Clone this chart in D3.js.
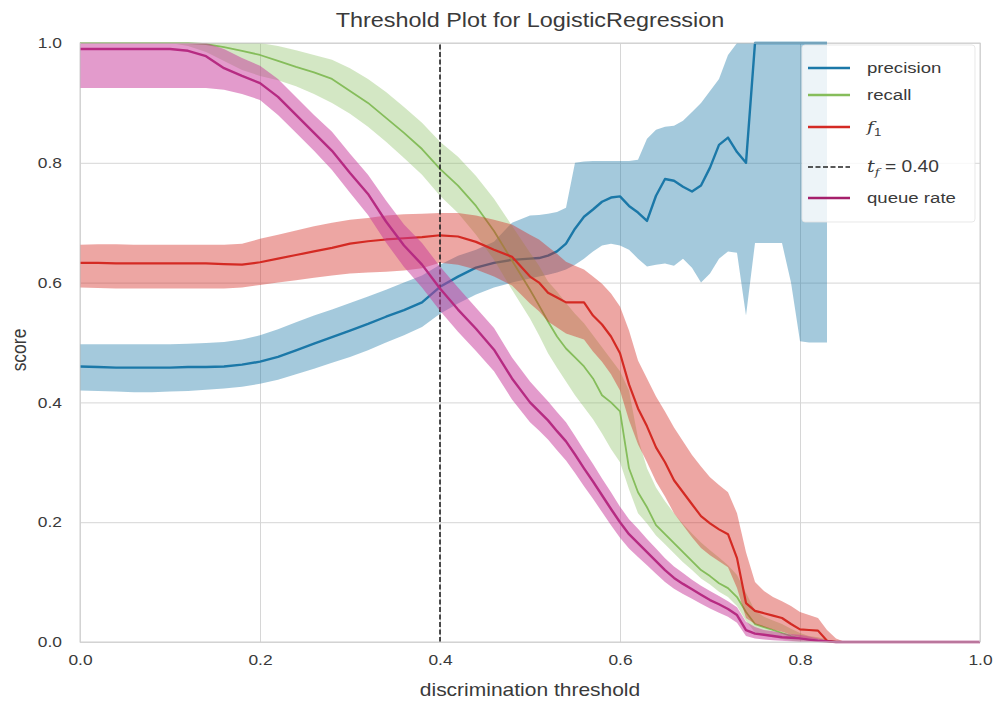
<!DOCTYPE html>
<html>
<head>
<meta charset="utf-8">
<script src="https://cdn.jsdelivr.net/npm/d3@7"></script>
<style>
  body { margin: 0; background: #fff; }
  svg text { font-family: "Liberation Sans", Arial, sans-serif; fill: #3a3a3a; }
</style>
</head>
<body>
<svg id="chart" width="999" height="706"></svg>
<script>
// Discrimination thresholds at which each metric was evaluated
const thresholds = [0.00,0.02,0.04,0.06,0.08,0.10,0.12,0.14,0.16,0.18,0.20,0.22,0.24,0.26,0.28,0.30,0.32,0.34,0.36,0.38,0.40,0.42,0.44,0.46,0.48,0.50,
  0.51,0.52,0.53,0.54,0.55,0.56,0.57,0.58,0.59,0.60,0.61,0.62,0.63,0.64,0.65,0.66,0.67,0.68,0.69,0.70,0.71,0.72,0.73,0.74,0.75,0.76,0.77,0.78,0.79,0.80,
  0.81,0.82,0.83,0.84,0.85,0.86,0.88,0.92,0.96,1.00];

// Precision: median and band (undefined once no samples are predicted positive)
const precision = [0.460,0.459,0.458,0.458,0.458,0.458,0.459,0.459,0.460,0.463,0.468,0.476,0.487,0.498,0.509,0.520,0.531,0.543,0.554,0.567,0.593,0.610,0.625,0.633,0.638,0.640,
  0.641,0.645,0.652,0.665,0.690,0.710,0.722,0.735,0.742,0.744,0.728,0.717,0.703,0.745,0.773,0.770,0.760,0.752,0.762,0.792,0.830,0.842,0.818,0.800,
  1.0,1.0,1.0,1.0,1.0,1.0,1.0,1.0,1.0,null,null,null,null,null,null,null];
const precisionLow = [0.420,0.419,0.418,0.417,0.417,0.418,0.419,0.421,0.423,0.426,0.431,0.438,0.447,0.456,0.466,0.476,0.487,0.500,0.512,0.526,0.548,0.565,0.580,0.592,0.600,0.607,
  0.610,0.613,0.617,0.622,0.630,0.640,0.652,0.662,0.665,0.662,0.655,0.640,0.627,0.630,0.632,0.628,0.640,0.625,0.600,0.615,0.640,0.652,0.650,0.545,
  0.666,0.666,0.666,0.666,0.600,0.502,0.500,0.500,0.500,null,null,null,null,null,null,null];
const precisionHigh = [0.497,0.497,0.497,0.497,0.497,0.497,0.498,0.499,0.501,0.505,0.512,0.522,0.534,0.545,0.555,0.566,0.577,0.588,0.600,0.612,0.630,0.645,0.655,0.668,0.700,0.712,
  0.713,0.715,0.718,0.725,0.800,0.802,0.803,0.803,0.803,0.803,0.803,0.805,0.840,0.855,0.860,0.862,0.870,0.885,0.900,0.920,0.940,0.980,1.0,1.0,
  1.0,1.0,1.0,1.0,1.0,1.0,1.0,1.0,1.0,null,null,null,null,null,null,null];

// Recall
const recall = [1,1,1,1,1,1,1.0,0.998,0.993,0.987,0.980,0.970,0.960,0.951,0.940,0.920,0.900,0.875,0.850,0.823,0.790,0.762,0.728,0.686,0.637,0.588,
  0.562,0.535,0.510,0.490,0.475,0.460,0.440,0.412,0.400,0.385,0.290,0.250,0.225,0.195,0.180,0.165,0.150,0.135,0.120,0.110,0.098,0.090,0.075,0.050,
  0.030,0.025,0.020,0.015,0.010,0.006,0.004,0.002,0.001,0,0,0,0,0,0,0];
const recallLow = [1,1,1,1,1,1,0.995,0.985,0.970,0.955,0.945,0.938,0.928,0.915,0.900,0.882,0.860,0.835,0.808,0.780,0.745,0.716,0.680,0.638,0.588,0.540,
  0.512,0.482,0.458,0.435,0.412,0.392,0.372,0.348,0.322,0.300,0.255,0.215,0.198,0.178,0.163,0.148,0.133,0.120,0.106,0.096,0.084,0.075,0.060,0.035,
  0.016,0.011,0.008,0.005,0.002,0,0,0,0,0,0,0,0,0,0,0];
const recallHigh = [1,1,1,1,1,1,1,1,1,1,1,0.995,0.988,0.980,0.972,0.958,0.940,0.918,0.893,0.867,0.835,0.810,0.778,0.740,0.695,0.650,
  0.628,0.602,0.585,0.566,0.548,0.532,0.512,0.492,0.472,0.452,0.420,0.340,0.290,0.258,0.235,0.215,0.197,0.181,0.166,0.153,0.141,0.128,0.112,0.082,
  0.052,0.042,0.036,0.030,0.022,0.015,0.010,0.008,0.004,0.001,0,0,0,0,0,0];

// F1 score
const fscore = [0.633,0.633,0.632,0.632,0.632,0.632,0.632,0.632,0.631,0.630,0.634,0.640,0.646,0.652,0.658,0.665,0.669,0.672,0.674,0.676,0.679,0.677,0.668,0.655,0.643,0.610,
  0.600,0.583,0.575,0.567,0.567,0.567,0.545,0.530,0.510,0.482,0.430,0.390,0.360,0.325,0.300,0.270,0.250,0.230,0.210,0.198,0.188,0.180,0.140,0.065,
  0.052,0.048,0.044,0.040,0.030,0.021,0.020,0.019,0.002,0,0,0,0,0,0,0];
const fscoreLow = [0.592,0.591,0.590,0.590,0.590,0.590,0.590,0.590,0.590,0.592,0.596,0.600,0.604,0.608,0.612,0.615,0.617,0.618,0.620,0.624,0.633,0.630,0.622,0.610,0.595,0.565,
  0.552,0.535,0.525,0.515,0.510,0.505,0.485,0.468,0.447,0.420,0.370,0.330,0.300,0.268,0.243,0.215,0.195,0.175,0.157,0.145,0.135,0.125,0.090,0.040,
  0.030,0.025,0.021,0.017,0.012,0.008,0.006,0.004,0,0,0,0,0,0,0,0];
const fscoreHigh = [0.663,0.664,0.664,0.663,0.663,0.663,0.663,0.663,0.663,0.665,0.673,0.680,0.687,0.694,0.700,0.705,0.708,0.712,0.714,0.715,0.716,0.716,0.712,0.705,0.697,0.680,
  0.672,0.660,0.648,0.635,0.628,0.622,0.610,0.598,0.582,0.560,0.520,0.470,0.440,0.410,0.385,0.358,0.335,0.312,0.293,0.275,0.262,0.250,0.215,0.150,
  0.100,0.085,0.075,0.068,0.060,0.050,0.045,0.040,0.020,0.006,0,0,0,0,0,0];

// Queue rate
const queueRate = [0.990,0.990,0.990,0.990,0.990,0.990,0.987,0.978,0.958,0.945,0.933,0.910,0.880,0.850,0.820,0.783,0.748,0.702,0.662,0.630,0.590,0.555,0.523,0.488,0.440,0.400,
  0.385,0.370,0.352,0.335,0.313,0.290,0.268,0.245,0.222,0.200,0.180,0.165,0.150,0.135,0.120,0.107,0.097,0.088,0.079,0.070,0.063,0.055,0.045,0.020,
  0.014,0.012,0.010,0.008,0.007,0.006,0.004,0.002,0.001,0,0,0,0,0,0,0];
const queueRateLow = [0.925,0.925,0.925,0.925,0.925,0.925,0.925,0.925,0.922,0.915,0.905,0.880,0.850,0.820,0.788,0.750,0.713,0.667,0.626,0.592,0.553,0.518,0.486,0.452,0.405,0.367,
  0.353,0.338,0.320,0.303,0.282,0.260,0.239,0.217,0.195,0.174,0.156,0.142,0.128,0.114,0.100,0.089,0.080,0.072,0.064,0.056,0.049,0.042,0.032,0.010,
  0.006,0.004,0.003,0.002,0.001,0,0,0,0,0,0,0,0,0,0,0];
const queueRateHigh = [1,1,1,1,1,1,1,1,0.990,0.975,0.962,0.940,0.910,0.880,0.852,0.815,0.780,0.737,0.697,0.666,0.627,0.592,0.558,0.524,0.475,0.435,
  0.418,0.402,0.384,0.367,0.344,0.320,0.297,0.273,0.250,0.226,0.205,0.189,0.172,0.156,0.140,0.126,0.115,0.104,0.094,0.085,0.077,0.068,0.058,0.034,
  0.025,0.020,0.018,0.015,0.013,0.012,0.009,0.006,0.003,0.001,0,0,0,0,0,0];

const xTicks = [0.0, 0.2, 0.4, 0.6, 0.8, 1.0];
const yTicks = [0.0, 0.2, 0.4, 0.6, 0.8, 1.0];
const bestThreshold = 0.40;

const seriesList = [
  { label: "precision", mid: precision, low: precisionLow, high: precisionHigh, color: "#1b78a8", band: 0.40, width: 2.4 },
  { label: "recall", mid: recall, low: recallLow, high: recallHigh, color: "#86bd5b", band: 0.36, width: 1.8 },
  { label: "f1", mid: fscore, low: fscoreLow, high: fscoreHigh, color: "#d42a24", band: 0.42, width: 2.2 },
  { label: "queue rate", mid: queueRate, low: queueRateLow, high: queueRateHigh, color: "#a51f6b", band: 0.50, width: 2.4, bandColor: "#c8379a" }
];

const svg = d3.select("#chart");
const SX = 1.2; // horizontal glyph stretch used for every label

const x = d3.scaleLinear().domain([0, 1]).range([80, 980]);
const y = d3.scaleLinear().domain([0, 1]).range([642, 43]);

// Grid
svg.append("g")
  .attr("transform", `translate(0,${y(0)})`)
  .call(d3.axisBottom(x).tickValues(xTicks).tickSize(-(y(0) - y(1))).tickFormat(""))
  .call(g => g.select(".domain").remove())
  .call(g => g.selectAll("line").attr("stroke", "#d6d6d6").attr("stroke-width", 1));
svg.append("g")
  .attr("transform", `translate(${x(0)},0)`)
  .call(d3.axisLeft(y).tickValues(yTicks).tickSize(-(x(1) - x(0))).tickFormat(""))
  .call(g => g.select(".domain").remove())
  .call(g => g.selectAll("line").attr("stroke", "#d6d6d6").attr("stroke-width", 1));

const plot = svg.append("g");
svg.append("defs").append("clipPath").attr("id", "plotClip")
  .append("rect").attr("x", x(0)).attr("y", y(1) - 2).attr("width", x(1) - x(0)).attr("height", y(0) - y(1) + 4);
plot.attr("clip-path", "url(#plotClip)");

function drawSeries(s) {
  const rows = thresholds.map((t, i) => ({ t, mid: s.mid[i], low: s.low[i], high: s.high[i] }));
  const area = d3.area()
    .defined(d => d.low != null && d.high != null)
    .x(d => x(d.t)).y0(d => y(d.low)).y1(d => y(d.high));
  const line = d3.line()
    .defined(d => d.mid != null)
    .x(d => x(d.t)).y(d => y(d.mid));
  plot.append("path").datum(rows)
    .attr("d", line).attr("fill", "none")
    .attr("stroke", s.color).attr("stroke-width", s.width).attr("stroke-linejoin", "round");
  plot.append("path").datum(rows)
    .attr("d", area).attr("fill", s.bandColor || s.color).attr("fill-opacity", s.band);
}

drawSeries(seriesList[0]);
drawSeries(seriesList[1]);
drawSeries(seriesList[2]);

// Selected threshold marker
plot.append("line")
  .attr("x1", x(bestThreshold)).attr("x2", x(bestThreshold))
  .attr("y1", y(0)).attr("y2", y(1))
  .attr("stroke", "#222").attr("stroke-width", 1.6).attr("stroke-dasharray", "5,2.5");

drawSeries(seriesList[3]);

// Frame
svg.append("rect")
  .attr("x", x(0)).attr("y", y(1)).attr("width", x(1) - x(0)).attr("height", y(0) - y(1))
  .attr("fill", "none").attr("stroke", "#cfcfcf").attr("stroke-width", 1);

// Axes labels
const fmt = d3.format(".1f");
svg.append("g")
  .attr("transform", `translate(0,${y(0)})`)
  .call(d3.axisBottom(x).tickValues(xTicks).tickSize(0).tickPadding(13).tickFormat(fmt))
  .call(g => g.select(".domain").remove())
  .call(g => g.selectAll("text").attr("font-size", 14.5).attr("fill", "#3a3a3a").attr("transform", `scale(${SX},1)`)
    .style("font-family", "'Liberation Sans', Arial, sans-serif"));
svg.append("g")
  .attr("transform", `translate(${x(0)},0)`)
  .call(d3.axisLeft(y).tickValues(yTicks).tickSize(0).tickPadding(15).tickFormat(fmt))
  .call(g => g.select(".domain").remove())
  .call(g => g.selectAll("text").attr("font-size", 14.5).attr("fill", "#3a3a3a").attr("transform", `scale(${SX},1)`)
    .style("font-family", "'Liberation Sans', Arial, sans-serif"));

function label(txt, px, py, size, rotate) {
  return svg.append("text")
    .attr("transform", `translate(${px},${py})` + (rotate ? ` rotate(${rotate})` : "") + ` scale(${rotate ? 1 : SX},${rotate ? SX : 1})`)
    .attr("text-anchor", "middle").attr("font-size", size).text(txt);
}
label("Threshold Plot for LogisticRegression", 530, 27, 19.5);
label("discrimination threshold", 530, 696, 17.5);
label("score", 26, 350, 17.5, -90);

// Legend
const lg = svg.append("g");
lg.append("rect").attr("x", 802).attr("y", 45).attr("width", 173).attr("height", 177).attr("rx", 3)
  .attr("fill", "#fff").attr("fill-opacity", 0.8).attr("stroke", "#e2e2e2").attr("stroke-opacity", 0.8);
const legendRows = [
  { key: "precision", y: 68, color: seriesList[0].color, w: 2.6 },
  { key: "recall", y: 95, color: seriesList[1].color, w: 2.6 },
  { key: "f1", y: 127, color: seriesList[2].color, w: 2.6 },
  { key: "tf", y: 167, color: "#222", w: 1.6, dash: "5,2.5" },
  { key: "queue rate", y: 198, color: seriesList[3].color, w: 2.6 }
];
legendRows.forEach(r => {
  lg.append("line").attr("x1", 808).attr("x2", 850).attr("y1", r.y).attr("y2", r.y)
    .attr("stroke", r.color).attr("stroke-width", r.w).attr("stroke-dasharray", r.dash || null);
  const t = lg.append("text").attr("transform", `translate(867,${r.y + 5}) scale(${SX},1)`).attr("font-size", 15.5);
  if (r.key === "f1") {
    t.append("tspan").attr("font-style", "italic").style("font-family", "'DejaVu Serif', serif").text("f");
    t.append("tspan").attr("font-size", 11).attr("dy", 4).text("1");
  } else if (r.key === "tf") {
    t.append("tspan").attr("font-style", "italic").style("font-family", "'DejaVu Serif', serif").attr("font-size", 16).text("t");
    t.append("tspan").attr("font-style", "italic").style("font-family", "'DejaVu Serif', serif").attr("font-size", 11).attr("dy", 4).text("f");
    t.append("tspan").attr("dy", -4).attr("font-size", 16).text(" = 0.40");
  } else {
    t.text(r.key);
  }
});
</script>
</body>
</html>
